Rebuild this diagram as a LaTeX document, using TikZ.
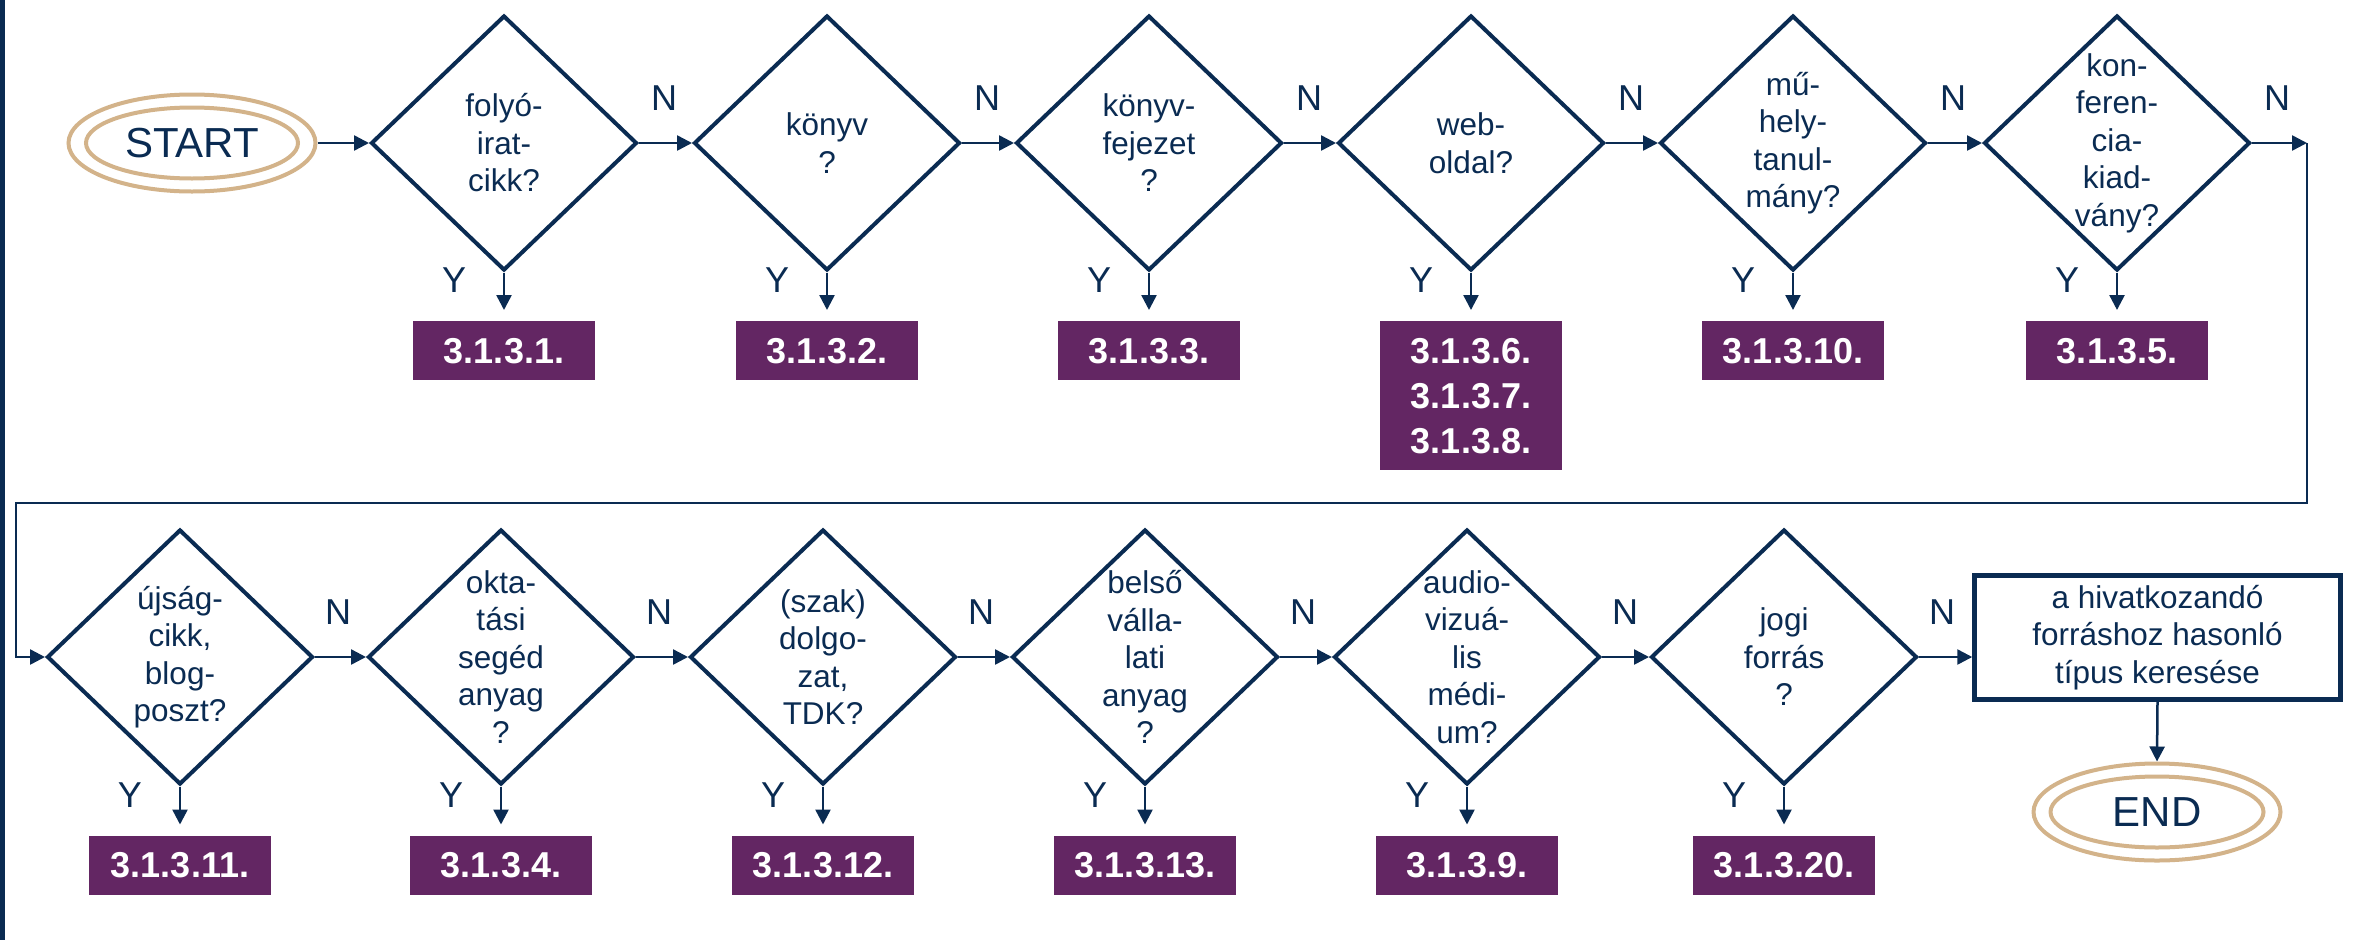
\documentclass[tikz,border=0pt]{standalone}
\usepackage{fontspec}
\setmainfont{Liberation Sans}
\usetikzlibrary{shapes.geometric,arrows.meta,calc}
\definecolor{navy}{HTML}{0A2B52}
\definecolor{plum}{HTML}{632663}
\definecolor{tan}{HTML}{D3B38A}
\begin{document}
\begin{tikzpicture}[x=1pt,y=-1pt,
  dia/.style={draw=navy, line width=4pt, shape=diamond, minimum width=266pt, minimum height=255pt, inner sep=0pt},
  dtext/.style={text=navy, font=\fontsize{31.5}{37.5}\selectfont, align=center, inner sep=0pt},
  res/.style={fill=plum, text=white, font=\fontsize{36}{45}\selectfont\bfseries, minimum width=182pt, minimum height=59pt, anchor=north, inner sep=0pt, align=center},
  lab/.style={text=navy, font=\fontsize{36}{40}\selectfont, inner sep=0pt},
  arr/.style={draw=navy, line width=2.5pt, -{Triangle[length=15pt,width=15pt]}},
  ell/.style={ellipse, draw=tan, line width=4pt, inner sep=0pt},
  term/.style={text=navy, font=\fontsize{42}{46}\selectfont}
]
\useasboundingbox (0,0) rectangle (2366,940);
\fill[navy] (0,0) rectangle (5,940);

% start
\node[ell, minimum width=247pt, minimum height=97pt] (so) at (192,143) {};
\node[ell, term, minimum width=212pt, minimum height=71pt] (s) at (192,143) {START};

% row 1 diamonds
\node[dia] (d1) at (504,143) {};
\node[dia] (d2) at (827,143) {};
\node[dia] (d3) at (1149,143) {};
\node[dia] (d4) at (1471,143) {};
\node[dia] (d5) at (1793,143) {};
\node[dia] (d6) at (2117,143) {};
\node[dtext] (t1) at (d1) {folyó-\\irat-\\cikk?};
\node[dtext] (t2) at (d2) {könyv\\?};
\node[dtext] (t3) at (d3) {könyv-\\fejezet\\?};
\node[dtext] (t4) at (d4) {web-\\oldal?};
\node[dtext] (t5) at (d5) {mű-\\hely-\\tanul-\\mány?};
\node[dtext] (t6) at (d6) {kon-\\feren-\\cia-\\kiad-\\vány?};

% row 2 diamonds
\node[dia] (d7) at (180,657) {};
\node[dia] (d8) at (501,657) {};
\node[dia] (d9) at (823,657) {};
\node[dia] (d10) at (1145,657) {};
\node[dia] (d11) at (1467,657) {};
\node[dia] (d12) at (1784,657) {};
\node[dtext] (t7) at (d7) {újság-\\cikk,\\blog-\\poszt?};
\node[dtext] (t8) at (d8) {okta-\\tási\\segéd\\anyag\\?};
\node[dtext] (t9) at (d9) {(szak)\\dolgo-\\zat,\\TDK?};
\node[dtext] (t10) at (d10) {belső\\válla-\\lati\\anyag\\?};
\node[dtext] (t11) at (d11) {audio-\\vizuá-\\lis\\médi-\\um?};
\node[dtext] (t12) at (d12) {jogi\\forrás\\?};

% result boxes
\node[res] (b1) at (504,321) {3.1.3.1.};
\node[res] (b2) at (827,321) {3.1.3.2.};
\node[res] (b3) at (1149,321) {3.1.3.3.};
\node[res, minimum height=149pt] (b4) at (1471,321) {3.1.3.6.\\3.1.3.7.\\3.1.3.8.};
\node[res] (b5) at (1793,321) {3.1.3.10.};
\node[res] (b6) at (2117,321) {3.1.3.5.};
\node[res] (b7) at (180,835.5) {3.1.3.11.};
\node[res] (b8) at (501,835.5) {3.1.3.4.};
\node[res] (b9) at (823,835.5) {3.1.3.12.};
\node[res] (b10) at (1145,835.5) {3.1.3.13.};
\node[res] (b11) at (1467,835.5) {3.1.3.9.};
\node[res] (b12) at (1784,835.5) {3.1.3.20.};

% final rect and end
\node[draw=navy, line width=4.5pt, minimum width=366pt, minimum height=124pt, text=navy,
      font=\fontsize{31.5}{37.5}\selectfont, align=center, inner sep=0pt] (r) at (2157.5,637.5)
      {a hivatkozandó\\forráshoz hasonló\\típus keresése};
\node[ell, minimum width=247pt, minimum height=97pt] (eo) at (2157,812) {};
\node[ell, term, minimum width=213pt, minimum height=71pt] (e) at (2157,812) {END};

% connectors row 1
\draw[arr] (so.east) -- (d1.west);
\draw[arr] (d1.east) -- (d2.west);
\draw[arr] (d2.east) -- (d3.west);
\draw[arr] (d3.east) -- (d4.west);
\draw[arr] (d4.east) -- (d5.west);
\draw[arr] (d5.east) -- (d6.west);
% wrap
\coordinate (c1) at (2307,143);
\coordinate (c2) at (2307,503);
\coordinate (c3) at (16,503);
\draw[arr] (d6.east) -- (c1);
\draw[arr] (c1) -- (c2) -- (c3) -- (c3 |- d7.west) -- (d7.west);
% row 2
\draw[arr] (d7.east) -- (d8.west);
\draw[arr] (d8.east) -- (d9.west);
\draw[arr] (d9.east) -- (d10.west);
\draw[arr] (d10.east) -- (d11.west);
\draw[arr] (d11.east) -- (d12.west);
\draw[arr] (d12.east) -- (d12.east -| r.west);
\draw[arr] (r.south) -- (eo.north);

% yes arrows
\foreach \i in {1,...,12}{
  \draw[arr] (d\i.south) -- ([yshift=11pt]b\i.north);
}

% labels
\foreach \i in {1,...,6}{
  \node[lab] (n\i) at ($(d\i)+(160,-45)$) {N};
  \node[lab] (y\i) at ($(d\i)+(-50,137)$) {Y};
}
\foreach \i in {7,...,12}{
  \node[lab] (n\i) at ($(d\i)+(158,-45)$) {N};
  \node[lab] (y\i) at ($(d\i)+(-50,138)$) {Y};
}
\end{tikzpicture}
\end{document}
